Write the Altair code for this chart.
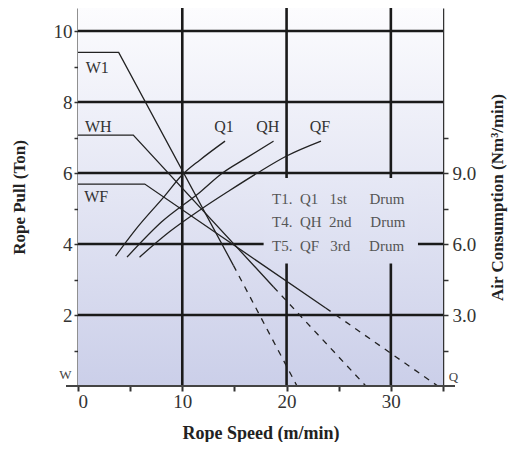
import altair as alt
import pandas as pd

# ---------------- data ----------------
x_ticks = [0, 5, 10, 15, 20, 25, 30, 35]
y_ticks = [1, 2, 3, 4, 5, 6, 7, 8, 9, 10]
grid_y = [2, 4, 6, 8, 10]
grid_x = [10, 20, 30]
right_ticks = [1.5, 3.0, 4.5, 6.0, 7.5, 9.0, 10.5]

# Rope pull curves: solid part then dashed part
W1_x = [0, 3.9, 14.9];  W1_y = [9.4, 9.4, 3.4];   W1_dx = [14.9, 21.0];  W1_dy = [3.4, 0]
WH_x = [0, 5.3, 18.75]; WH_y = [7.07, 7.07, 2.79]; WH_dx = [18.75, 27.6]; WH_dy = [2.79, 0]
WF_x = [0, 6.4, 23.75]; WF_y = [5.69, 5.69, 2.2];  WF_dx = [23.75, 34.5]; WF_dy = [2.2, 0]

# Air consumption curves (plotted against the left scale)
Q1_x = [3.6, 5.5, 8.3, 10.0, 11.7, 14.1]
Q1_y = [3.66, 4.4, 5.35, 5.95, 6.37, 6.9]
QH_x = [4.7, 8.0, 11.7, 13.85, 16.0, 18.75]
QH_y = [3.63, 4.62, 5.46, 6.0, 6.4, 6.9]
QF_x = [5.9, 8.8, 11.7, 14.5, 17.2, 20.0, 23.3]
QF_y = [3.63, 4.35, 4.96, 5.5, 6.0, 6.48, 6.9]

curve_labels = ["W1", "WH", "WF", "Q1", "QH", "QF"]
label_x = [1.85, 1.95, 1.75, 14.0, 18.2, 23.2]
label_y = [8.96, 7.30, 5.33, 7.30, 7.30, 7.30]

NB = "\u00a0"
legend_lines = ["T1." + NB * 2 + "Q1" + NB * 3 + "1st" + NB * 6 + "Drum",
                "T4." + NB * 2 + "QH" + NB * 2 + "2nd" + NB * 5 + "Drum",
                "T5." + NB * 2 + "QF" + NB * 3 + "3rd" + NB * 5 + "Drum"]
legend_x = [18.6, 18.6, 18.6]
legend_y = [5.27, 4.62, 3.94]

corner_text = ["W", "Q"]
corner_x = [-1.2, 36.0]
corner_y = [0.3, 0.25]

X_MAX = 35
Y_MAX = 10.65
RIGHT_FACTOR = 1.5
mask_box = dict(x0=17.8, x1=32.6, y0=3.45, y1=5.86)

# ---------------- helpers ----------------
TOP = (252, 252, 254)
BOT = (203, 207, 233)

def mix(t):
    c = [round(a + (b - a) * t) for a, b in zip(TOP, BOT)]
    return "#%02x%02x%02x" % tuple(c)

def grad(t0, t1):
    return alt.LinearGradient(
        gradient="linear", x1=0, x2=0, y1=0, y2=1,
        stops=[alt.GradientStop(color=mix(t0), offset=0),
               alt.GradientStop(color=mix(t1), offset=1)])

SERIF = "Liberation Serif"
xs = alt.Scale(domain=[0, X_MAX], nice=False, zero=False)
ys = alt.Scale(domain=[0, Y_MAX], nice=False, zero=False)
rs = alt.Scale(domain=[0, Y_MAX * RIGHT_FACTOR], nice=False, zero=False)

xaxis = alt.Axis(values=x_ticks, grid=False, domain=False,
                 labelExpr="datum.value % 10 == 0 && datum.value < 35 ? datum.label : ''",
                 tickSize=5, tickWidth=2, tickColor="#333",
                 labelFont=SERIF, labelFontSize=19, labelColor="#333", labelPadding=1,
                 title="Rope Speed (m/min)", titleFont=SERIF, titleFontSize=18,
                 titleFontWeight="bold", titleColor="#222", titlePadding=13)
yaxis = alt.Axis(values=y_ticks, grid=False, domain=True, domainColor="#222", domainWidth=2,
                 labelExpr="datum.value % 2 == 0 ? datum.label : ''",
                 tickSize=4, tickWidth=1.5, tickColor="#333",
                 labelFont=SERIF, labelFontSize=19, labelColor="#333", labelPadding=2,
                 title="Rope Pull (Ton)", titleFont=SERIF, titleFontSize=17,
                 titleFontWeight="bold", titleColor="#222", titlePadding=25)
raxis = alt.Axis(orient="right", values=right_ticks, grid=False, domain=True,
                 domainColor="#333", domainWidth=1.5,
                 labelExpr="datum.value % 3 == 0 ? format(datum.value, '.1f') : ''",
                 tickSize=5, tickWidth=1.5, tickColor="#333",
                 labelFont=SERIF, labelFontSize=19, labelColor="#333", labelPadding=4,
                 title="Air Consumption (Nm³/min)", titleFont=SERIF, titleFontSize=17,
                 titleFontWeight="bold", titleColor="#222", titlePadding=14,
                 titleAngle=270, titleBaseline="top")

def X(f):
    return alt.X(f, type="quantitative", scale=xs, axis=xaxis)

def Y(f):
    return alt.Y(f, type="quantitative", scale=ys, axis=yaxis)

# ---------------- frames ----------------
def series(name, xs_, ys_):
    return pd.DataFrame({"x": xs_, "y": ys_, "s": name, "i": range(len(xs_))})

w_solid = pd.concat([series("W1", W1_x, W1_y), series("WH", WH_x, WH_y), series("WF", WF_x, WF_y)])
w_dash = pd.concat([series("W1", W1_dx, W1_dy), series("WH", WH_dx, WH_dy), series("WF", WF_dx, WF_dy)])
q_df = pd.concat([series("Q1", Q1_x, Q1_y), series("QH", QH_x, QH_y), series("QF", QF_x, QF_y)])

bg_df = pd.DataFrame([{"x0": 0, "x1": X_MAX, "y0": 0, "y1": Y_MAX}])
mask_df = pd.DataFrame([mask_box])
t_top = (Y_MAX - mask_box["y1"]) / Y_MAX
t_bot = (Y_MAX - mask_box["y0"]) / Y_MAX

bg = alt.Chart(bg_df).mark_rect(color=grad(0, 1)).encode(
    x=X("x0"), x2="x1", y=Y("y0"), y2="y1")
hgrid = alt.Chart(pd.DataFrame({"y": grid_y})).mark_rule(color="#1a1a1a", strokeWidth=2.6).encode(y=Y("y"))
vgrid = alt.Chart(pd.DataFrame({"x": grid_x})).mark_rule(color="#1a1a1a", strokeWidth=2.6).encode(x=X("x"))
mask = alt.Chart(mask_df).mark_rect(color=grad(t_top, t_bot)).encode(
    x=X("x0"), x2="x1", y=Y("y0"), y2="y1")

wsol = alt.Chart(w_solid).mark_line(color="#222", strokeWidth=1.3).encode(
    x=X("x"), y=Y("y"), detail="s:N", order="i:O")
wdash = alt.Chart(w_dash).mark_line(color="#222", strokeWidth=1.3, strokeDash=[6, 6]).encode(
    x=X("x"), y=Y("y"), detail="s:N", order="i:O")
qline = alt.Chart(q_df).mark_line(color="#222", strokeWidth=1.3, interpolate="monotone").encode(
    x=X("x"), y=Y("y"), detail="s:N", order="i:O")

labels = alt.Chart(pd.DataFrame({"t": curve_labels, "x": label_x, "y": label_y})).mark_text(
    font=SERIF, fontSize=16, color="#333", align="center", baseline="middle").encode(
    x=X("x"), y=Y("y"), text="t:N")
legend = alt.Chart(pd.DataFrame({"t": legend_lines, "x": legend_x, "y": legend_y})).mark_text(
    font=SERIF, fontSize=15, color="#555", align="left", baseline="middle").encode(
    x=X("x"), y=Y("y"), text="t:N")
corners = alt.Chart(pd.DataFrame({"t": corner_text, "x": corner_x, "y": corner_y})).mark_text(
    font=SERIF, fontSize=13, color="#444", align="center", baseline="middle").encode(
    x=X("x"), y=Y("y"), text="t:N")
bottom_line = alt.Chart(bg_df).mark_rule(color="#444", strokeWidth=2).encode(
    x=alt.value(-12), x2=alt.value(377), y=alt.value(378))

left = alt.layer(bg, hgrid, vgrid, mask, wsol, wdash, qline, labels, legend, corners, bottom_line)

right = alt.Chart(pd.DataFrame({"v": right_ticks})).mark_point(opacity=0).encode(
    y=alt.Y("v:Q", scale=rs, axis=raxis))

chart = alt.layer(left, right).resolve_scale(y="independent").properties(
    width=365, height=378,
    padding={"left": 70, "top": 0, "right": 68, "bottom": 56},
    autosize=alt.AutoSizeParams(type="none"),
    background="white",
).configure_view(stroke=None)

chart.save("out.html", embed_options={"renderer": "svg", "actions": False})
